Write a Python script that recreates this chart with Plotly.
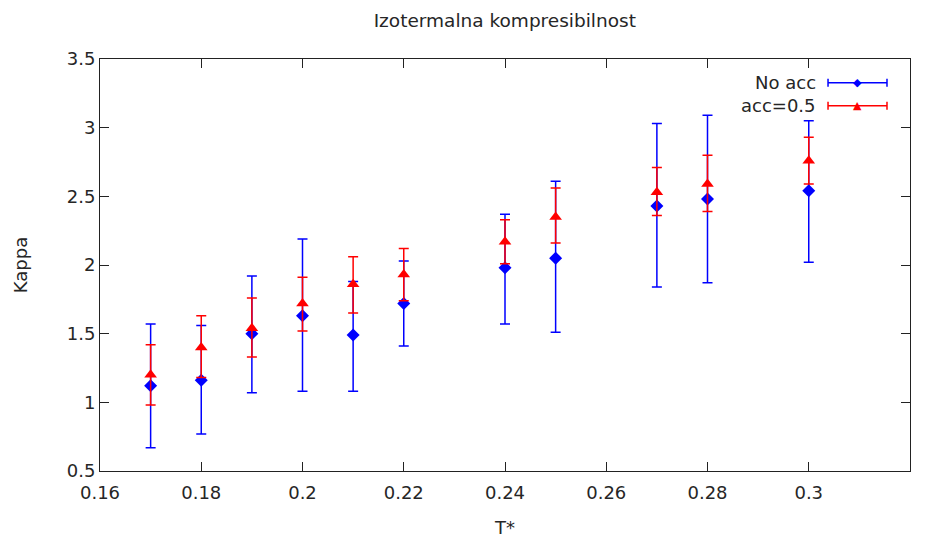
import plotly.graph_objects as go

T = [0.17, 0.18, 0.19, 0.20, 0.21, 0.22, 0.24, 0.25, 0.27, 0.28, 0.30]

noacc_y = [1.12, 1.16, 1.50, 1.63, 1.49, 1.72, 1.98, 2.05, 2.43, 2.48, 2.54]
noacc_lo = [0.67, 0.77, 1.07, 1.08, 1.08, 1.41, 1.57, 1.51, 1.84, 1.87, 2.02]
noacc_hi = [1.57, 1.56, 1.92, 2.19, 1.88, 2.03, 2.37, 2.61, 3.03, 3.09, 3.05]

acc_y = [1.20, 1.40, 1.54, 1.72, 1.86, 1.93, 2.17, 2.35, 2.53, 2.59, 2.76]
acc_lo = [0.98, 1.18, 1.33, 1.52, 1.65, 1.74, 2.01, 2.16, 2.36, 2.39, 2.59]
acc_hi = [1.42, 1.63, 1.76, 1.91, 2.06, 2.12, 2.33, 2.56, 2.71, 2.80, 2.93]

x_ticks = [0.16, 0.18, 0.2, 0.22, 0.24, 0.26, 0.28, 0.3, 0.32]
x_ticktext = ["0.16", "0.18", "0.2", "0.22", "0.24", "0.26", "0.28", "0.3", "0.32"]
y_ticks = [0.5, 1, 1.5, 2, 2.5, 3, 3.5]
y_ticktext = ["0.5", "1", "1.5", "2", "2.5", "3", "3.5"]

series = [
    ("No acc", noacc_y, noacc_lo, noacc_hi, "rgb(0,0,255)", "diamond", 10),
    ("acc=0.5", acc_y, acc_lo, acc_hi, "rgb(255,0,0)", "triangle-up", 11),
]

FONT = "DejaVu Sans"
TXT = "#262626"
fig = go.Figure()
for name, y, lo, hi, col, sym, sz in series:
    fig.add_trace(go.Scatter(
        x=T, y=y, mode="markers", name=name, showlegend=False,
        marker=dict(symbol=sym, size=sz, color=col, line=dict(width=0)),
        error_y=dict(type="data", symmetric=False,
                     array=[h - v for h, v in zip(hi, y)],
                     arrayminus=[v - l for v, l in zip(y, lo)],
                     color=col, thickness=1.5, width=5),
    ))

# gnuplot-style legend (text left of the sample)
shapes = []
annotations = []
for i, (name, y, lo, hi, col, sym, sz) in enumerate(series):
    yp = 0.9425 - i * 0.0558
    x0, x1 = 0.8988, 0.9716
    shapes.append(dict(type="line", xref="paper", yref="paper", x0=x0, x1=x1, y0=yp, y1=yp,
                       line=dict(color=col, width=1.5)))
    for xc in (x0, x1):
        shapes.append(dict(type="line", xref="paper", yref="paper", x0=xc, x1=xc,
                           y0=yp - 0.0097, y1=yp + 0.0097, line=dict(color=col, width=1.5)))
    annotations.append(dict(xref="paper", yref="paper", x=0.8864, y=yp, text=name,
                            showarrow=False, xanchor="right", yanchor="middle",
                            font=dict(family=FONT, size=18, color=TXT)))
    annotations.append(dict(xref="paper", yref="paper", x=(x0 + x1) / 2, y=yp,
                            text="◆" if sym == "diamond" else "▲",
                            showarrow=False, xanchor="center", yanchor="middle",
                            font=dict(family=FONT, size=11, color=col)))

axis_common = dict(showline=True, linecolor="#222", linewidth=1, mirror="ticks",
                   ticks="inside", ticklen=9, tickcolor="#222", showgrid=False,
                   zeroline=False, automargin=False,
                   tickfont=dict(family=FONT, size=18, color=TXT))

# page body has an 8px margin; figure sized to fit the 936x546 window without scrollbars
fig.update_layout(
    width=920, height=530,
    margin=dict(l=92, r=18, t=51, b=67),
    paper_bgcolor="white", plot_bgcolor="white",
    title=dict(text="Izotermalna kompresibilnost", x=0.540, xanchor="center",
               y=0.977, yanchor="middle", font=dict(family=FONT, size=18.5, color=TXT)),
    xaxis=dict(range=[0.16, 0.32], tickvals=x_ticks, ticktext=x_ticktext, ticklabelstandoff=5,
               title=dict(text="T*", font=dict(family=FONT, size=18, color=TXT), standoff=22),
               **axis_common),
    yaxis=dict(range=[0.5, 3.5], tickvals=y_ticks, ticktext=y_ticktext,
               title=dict(text="Kappa", font=dict(family=FONT, size=18, color=TXT), standoff=34),
               **axis_common),
    shapes=shapes, annotations=annotations,
)

fig.write_html("out.html")
